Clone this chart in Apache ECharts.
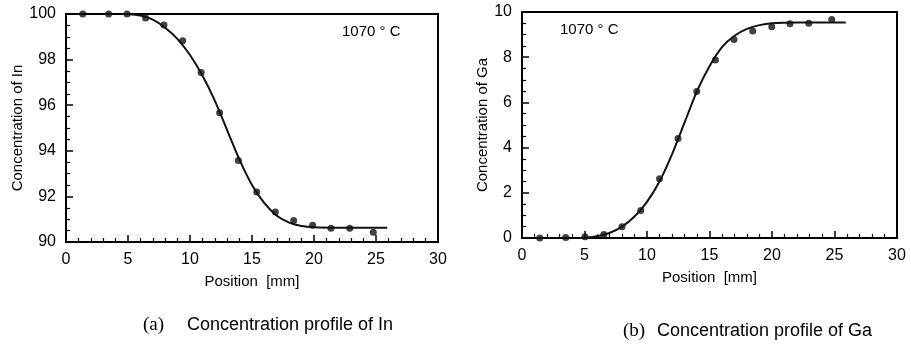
<!DOCTYPE html>
<html>
<head>
<meta charset="utf-8">
<script src="https://cdn.jsdelivr.net/npm/echarts@6/dist/echarts.min.js"></script>
<style>
  html, body { margin: 0; padding: 0; background: #fff; }
  #chart { width: 911px; height: 344px; }
</style>
</head>
<body>
<div id="chart"></div>
<script>
  // measured points, In profile (a)
  const posIn = [1.35, 3.44, 4.92, 6.42, 7.9, 9.41, 10.9, 12.39, 13.9, 15.38, 16.88, 18.36, 19.89, 21.37, 22.88, 24.78];
  const concIn = [100, 100, 100, 99.83, 99.52, 98.83, 97.43, 95.67, 93.57, 92.19, 91.32, 90.94, 90.74, 90.6, 90.6, 90.43];
  // fitted curve, In
  const fitPosIn = [5, 6, 7, 8, 9, 10, 11, 12, 13, 14, 15, 16, 17, 18, 19, 20, 22, 25.9];
  const fitIn = [100, 99.93, 99.75, 99.4, 98.9, 98.2, 97.3, 96.2, 94.9, 93.6, 92.5, 91.7, 91.15, 90.85, 90.7, 90.65, 90.63, 90.63];

  // measured points, Ga profile (b)
  const posGa = [1.42, 3.5, 5.04, 6.54, 8.0, 9.5, 11.0, 12.48, 13.98, 15.47, 16.96, 18.46, 19.98, 21.44, 22.94, 24.78];
  const concGa = [0, 0.02, 0.05, 0.16, 0.5, 1.22, 2.62, 4.4, 6.48, 7.88, 8.78, 9.16, 9.35, 9.48, 9.5, 9.67];
  // fitted curve, Ga
  const fitPosGa = [4.6, 6, 7, 8, 9, 10, 11, 12, 13, 14, 15, 16, 17, 18, 19, 20, 22, 25.9];
  const fitGa = [0, 0.08, 0.22, 0.5, 0.95, 1.6, 2.5, 3.7, 5.1, 6.5, 7.6, 8.45, 8.95, 9.25, 9.42, 9.5, 9.53, 9.53];

  const ink = '#000';
  const font = 'Liberation Sans, Arial, sans-serif';

  const zip = (xs, ys) => xs.map((x, i) => [x, ys[i]]);

  function xAxisOf(idx) {
    return {
      gridIndex: idx,
      type: 'value',
      min: 0,
      max: 30,
      interval: 5,
      name: 'Position  [mm]',
      nameLocation: 'middle',
      nameGap: 32,
      nameTextStyle: { color: ink, fontSize: 15, fontFamily: font },
      axisLine: { lineStyle: { color: ink, width: 2 } },
      axisTick: { inside: true, length: 7, lineStyle: { color: ink, width: 1.5 } },
      minorTick: { show: true, splitNumber: 5, length: 4, lineStyle: { color: ink, width: 1.2 } },
      axisLabel: { color: ink, fontSize: 16, fontFamily: font, margin: 10 },
      splitLine: { show: false }
    };
  }

  function yAxisOf(idx, min, max, name, gap) {
    return {
      gridIndex: idx,
      type: 'value',
      min: min,
      max: max,
      interval: 2,
      name: name,
      nameLocation: 'middle',
      nameGap: gap,
      nameTextStyle: { color: ink, fontSize: 15, fontFamily: font },
      axisLine: { show: true, lineStyle: { color: ink, width: 2 } },
      axisTick: { inside: true, length: 7, lineStyle: { color: ink, width: 1.5 } },
      minorTick: { show: true, splitNumber: 4, length: 4, lineStyle: { color: ink, width: 1.2 } },
      axisLabel: { color: ink, fontSize: 16, fontFamily: font, margin: 10 },
      splitLine: { show: false }
    };
  }

  function points(idx, data) {
    return {
      type: 'scatter',
      xAxisIndex: idx,
      yAxisIndex: idx,
      data: data,
      symbol: 'circle',
      symbolSize: 7,
      itemStyle: { color: '#111' },
      z: 3
    };
  }

  function curve(idx, data) {
    return {
      type: 'line',
      xAxisIndex: idx,
      yAxisIndex: idx,
      data: data,
      smooth: 0.3,
      showSymbol: false,
      lineStyle: { color: '#111', width: 2 },
      z: 2
    };
  }

  const chart = echarts.init(document.getElementById('chart'));
  chart.setOption({
    backgroundColor: '#fff',
    animation: false,
    grid: [
      { left: 66, right: 473, top: 14, bottom: 102, show: true, borderColor: ink, borderWidth: 2 },
      { left: 522, right: 14, top: 12, bottom: 106, show: true, borderColor: ink, borderWidth: 2 }
    ],
    xAxis: [xAxisOf(0), xAxisOf(1)],
    yAxis: [
      yAxisOf(0, 90, 100, 'Concentration of In', 41),
      yAxisOf(1, 0, 10, 'Concentration of Ga', 32)
    ],
    series: [
      curve(0, zip(fitPosIn, fitIn)),
      points(0, zip(posIn, concIn)),
      curve(1, zip(fitPosGa, fitGa)),
      points(1, zip(posGa, concGa))
    ],
    graphic: [
      { type: 'text', left: 342, top: 24, style: { text: '1070 ° C', fill: ink, font: '15px ' + font } },
      { type: 'text', left: 560, top: 22, style: { text: '1070 ° C', fill: ink, font: '15px ' + font } },
      { type: 'text', left: 143, top: 316, style: { text: '(a)', fill: ink, font: '19px Liberation Serif, serif' } },
      { type: 'text', left: 187, top: 316, style: { text: 'Concentration profile of In', fill: ink, font: '18px ' + font } },
      { type: 'text', left: 623, top: 322, style: { text: '(b)', fill: ink, font: '19px Liberation Serif, serif' } },
      { type: 'text', left: 657, top: 322, style: { text: 'Concentration profile of Ga', fill: ink, font: '18px ' + font } }
    ]
  });
</script>
</body>
</html>
